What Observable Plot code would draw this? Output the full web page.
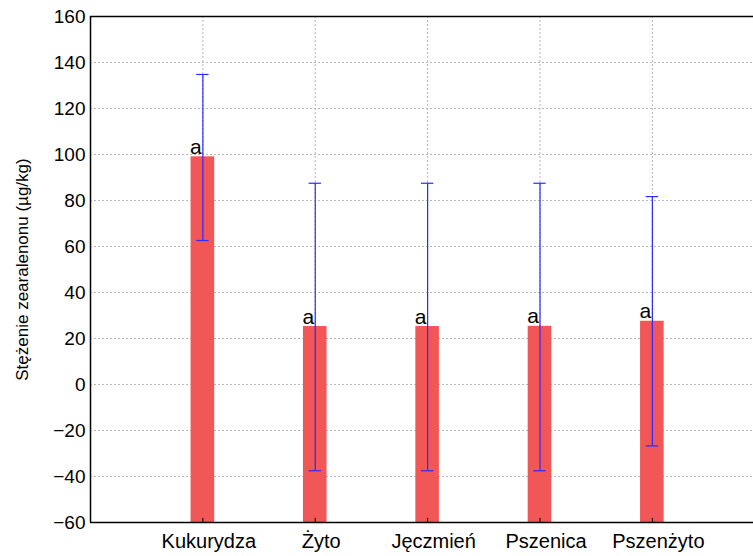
<!DOCTYPE html>
<html>
<head>
<meta charset="utf-8">
<script src="https://cdn.jsdelivr.net/npm/d3@7"></script>
<script src="https://cdn.jsdelivr.net/npm/@observablehq/plot@0.6"></script>
<style>
  html, body { margin: 0; padding: 0; background: #fff; }
  svg { font-family: "Liberation Sans", Arial, sans-serif; }
</style>
</head>
<body>
<div id="chart"></div>
<script>
const categories = ["Kukurydza", "Żyto", "Jęczmień", "Pszenica", "Pszenżyto"];
const means = [99, 25.2, 25.2, 25.3, 27.5];
const errLow = [62.6, -37.5, -37.5, -37.5, -26.7];
const errHigh = [134.8, 87.5, 87.5, 87.5, 81.7];
const letters = ["a", "a", "a", "a", "a"];
const yTicks = [-60, -40, -20, 0, 20, 40, 60, 80, 100, 120, 140, 160];
const yLabel = "Stężenie zearalenonu (µg/kg)";

const data = categories.map((c, i) => ({
  pos: i + 1, cat: c, mean: means[i], lo: errLow[i], hi: errHigh[i], letter: letters[i]
}));

const halfBar = 0.105;
const halfCap = 0.055;
const yMin = -60, yMax = 160;
const gridStyle = {stroke: "#b8b8b8", strokeWidth: 1, strokeDasharray: "2,2"};

const chart = Plot.plot({
  width: 753,
  height: 556,
  marginLeft: 90,
  marginRight: 0,
  marginTop: 16,
  marginBottom: 34,
  style: {fontSize: "19px", fontFamily: "'Liberation Sans', Arial, sans-serif", background: "#fff", color: "#000"},
  x: {type: "linear", domain: [0, 5.9]},
  y: {domain: [yMin, yMax]},
  marks: [
    Plot.ruleY(yTicks.filter(t => t > yMin && t < yMax), gridStyle),
    Plot.ruleX(data, {x: "pos", ...gridStyle}),
    Plot.rectY(data, {x1: d => d.pos - halfBar, x2: d => d.pos + halfBar, y1: yMin, y2: "mean", fill: "#f25757"}),
    Plot.ruleX(data, {x: "pos", y1: "lo", y2: "hi", stroke: "#2a2aff", strokeWidth: 1.2}),
    Plot.ruleY(data, {y: "hi", x1: d => d.pos - halfCap, x2: d => d.pos + halfCap, stroke: "#2a2aff", strokeWidth: 1.2}),
    Plot.ruleY(data, {y: "lo", x1: d => d.pos - halfCap, x2: d => d.pos + halfCap, stroke: "#2a2aff", strokeWidth: 1.2}),
    Plot.text(data, {x: "pos", y: "mean", text: "letter", dx: -7, dy: -3, lineAnchor: "bottom", fontSize: 21, fill: "#000"}),
    Plot.ruleX(data, {x: "pos", y1: yMin, y2: yMin + 1.8, stroke: "#000"}),
    Plot.ruleY([yMin, yMax], {stroke: "#000", strokeWidth: 1.5}),
    Plot.ruleX([0], {stroke: "#000", strokeWidth: 1.5}),
    Plot.axisY({ticks: yTicks, tickSize: 0, tickPadding: 5, label: null, fontSize: 19}),
    Plot.axisX({ticks: data.map(d => d.pos), tickFormat: p => categories[p - 1], tickSize: 0, tickPadding: 11, dx: 6, label: null, fontSize: 20}),
    Plot.text([yLabel], {frameAnchor: "left", textAnchor: "middle", dx: -68, rotate: -90, fontSize: 17, fill: "#000"})
  ]
});
document.getElementById("chart").appendChild(chart);
</script>
</body>
</html>
